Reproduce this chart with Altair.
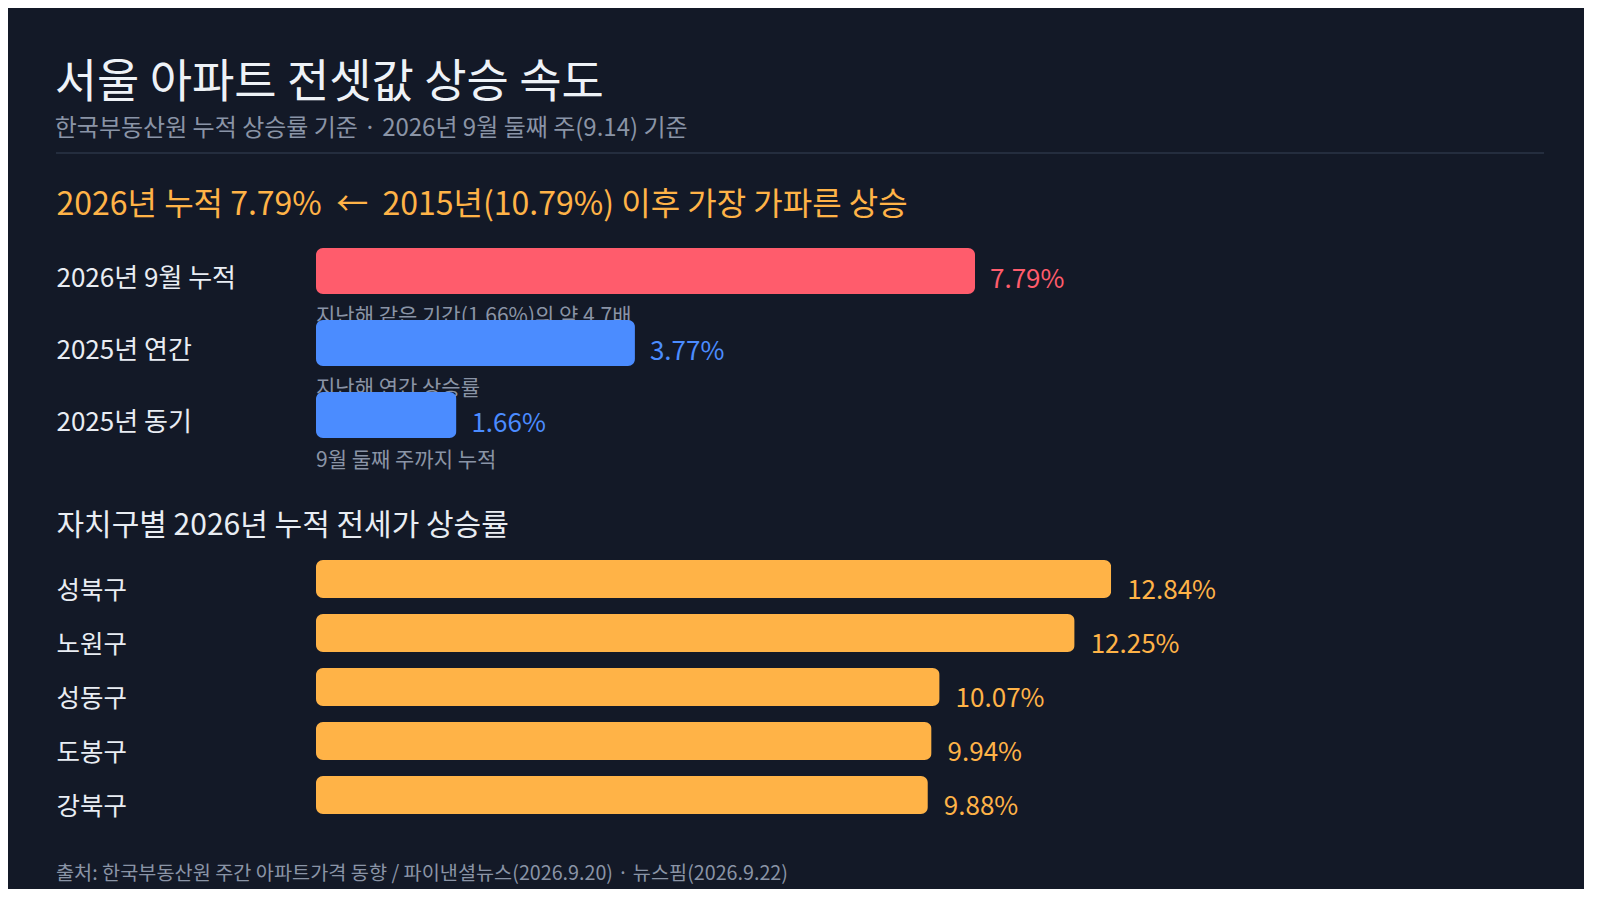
import altair as alt
import pandas as pd

# -----------------------------
# 1. Data
# -----------------------------
summary_labels = ["2026년 9월 누적", "2025년 연간", "2025년 동기"]
summary_values = [7.79, 3.77, 1.66]
summary_notes = ["지난해 같은 기간(1.66%)의 약 4.7배", "지난해 연간 상승률", "9월 둘째 주까지 누적"]
summary_colors = ["#ff5c6c", "#4b8cff", "#4b8cff"]

districts = ["성북구", "노원구", "성동구", "도봉구", "강북구"]
district_values = [12.84, 12.25, 10.07, 9.94, 9.88]

TITLE = "서울 아파트 전셋값 상승 속도"
SUBTITLE = "한국부동산원 누적 상승률 기준 · 2026년 9월 둘째 주(9.14) 기준"
HEADLINE = "2026년 누적 7.79%\u00a0 ←\u00a0 2015년(10.79%) 이후 가장 가파른 상승"
SECTION = "자치구별 2026년 누적 전세가 상승률"
FOOTER = "출처: 한국부동산원 주간 아파트가격 동향 / 파이낸셜뉴스(2026.9.20) · 뉴스핌(2026.9.22)"

FONT = "Noto Sans CJK KR"
WHITE = "#e9edf3"
GREY = "#8a94a6"
ORANGE = "#ffb347"

# -----------------------------
# 2. Tables
# -----------------------------
top_df = pd.DataFrame({
    "label": summary_labels,
    "value": summary_values,
    "note": summary_notes,
    "color": summary_colors,
    "text": [f"{v:.2f}%" for v in summary_values],
})

dist_df = pd.DataFrame({
    "district": districts,
    "value": district_values,
    "text": [f"{v:.2f}%" for v in district_values],
})

# -----------------------------
# 3. Chart 1: summary bars
# -----------------------------
y1 = alt.Y(
    "label:N", sort=summary_labels, title=None,
    scale=alt.Scale(paddingInner=0, paddingOuter=0),
    axis=alt.Axis(labelAlign="left", labelPadding=260, labelFontSize=26,
                  labelColor=WHITE, labelOffset=8, labelLimit=0,
                  ticks=False, domain=False, grid=False),
)
x1 = alt.X(
    "value:Q", scale=alt.Scale(domain=[0, 10]),
    axis=alt.Axis(orient="top", labels=False, ticks=False, domain=False, grid=False,
                  title=HEADLINE, titleX=-260, titleY=-21, titleAlign="left",
                  titleAnchor="start", titleBaseline="alphabetic", titleFontSize=32,
                  titleColor=ORANGE, titleFontWeight="normal"),
)

base1 = alt.Chart(top_df)

divider = alt.Chart(pd.DataFrame({"a": [0]})).mark_rule(
    color="#2b3447", strokeWidth=1.5
).encode(x=alt.value(-260), x2=alt.value(1228), y=alt.value(-82))

notes = base1.mark_text(align="left", baseline="middle", dy=46, fontSize=21, color=GREY).encode(
    x=alt.datum(0), y=y1, text="note:N"
)
bars1 = base1.mark_bar(height=46, cornerRadius=7).encode(
    x=x1, y=y1, color=alt.Color("color:N", scale=None)
)
vals1 = base1.mark_text(align="left", baseline="middle", dx=15, dy=9, fontSize=26).encode(
    x="value:Q", y=y1, text="text:N", color=alt.Color("color:N", scale=None)
)

chart1 = alt.layer(divider, notes, bars1, vals1).properties(width=846, height=216)

# -----------------------------
# 4. Chart 2: districts
# -----------------------------
y2 = alt.Y(
    "district:N", sort=districts, title=None,
    scale=alt.Scale(paddingInner=0, paddingOuter=0),
    axis=alt.Axis(labelAlign="left", labelPadding=260, labelFontSize=25.5,
                  labelColor=WHITE, labelOffset=12, labelLimit=0,
                  ticks=False, domain=False, grid=False),
)
x2 = alt.X(
    "value:Q", scale=alt.Scale(domain=[0, 14]),
    axis=alt.Axis(orient="top", labels=False, ticks=False, domain=False, grid=False,
                  title=SECTION, titleX=-260, titleY=-18, titleAlign="left",
                  titleAnchor="start", titleBaseline="alphabetic", titleFontSize=30,
                  titleColor=WHITE, titleFontWeight="normal"),
)

base2 = alt.Chart(dist_df)
bars2 = base2.mark_bar(height=38, cornerRadius=7, color=ORANGE).encode(x=x2, y=y2)
vals2 = base2.mark_text(align="left", baseline="middle", dx=16, dy=12, fontSize=26, color=ORANGE).encode(
    x="value:Q", y=y2, text="text:N"
)

chart2 = alt.layer(bars2, vals2).properties(
    width=867, height=270,
    title=alt.TitleParams(FOOTER, orient="bottom", anchor="start", fontSize=19.7,
                          color=GREY, fontWeight="normal", offset=42),
)

# -----------------------------
# 5. Assemble + save
# -----------------------------
chart = alt.vconcat(chart1, chart2, spacing=101, bounds="flush").properties(
    title=alt.TitleParams(TITLE, subtitle=SUBTITLE, anchor="start", fontSize=46,
                          color="#eef2f7", fontWeight="normal", subtitleFontSize=24,
                          subtitleColor=GREY, subtitlePadding=10, offset=10),
    padding={"left": 46, "top": 51, "right": 38, "bottom": 4},
    background="#131927",
).configure(font=FONT).configure_view(stroke="transparent")

chart.save("out.html", embed_options={"renderer": "svg", "actions": False})
